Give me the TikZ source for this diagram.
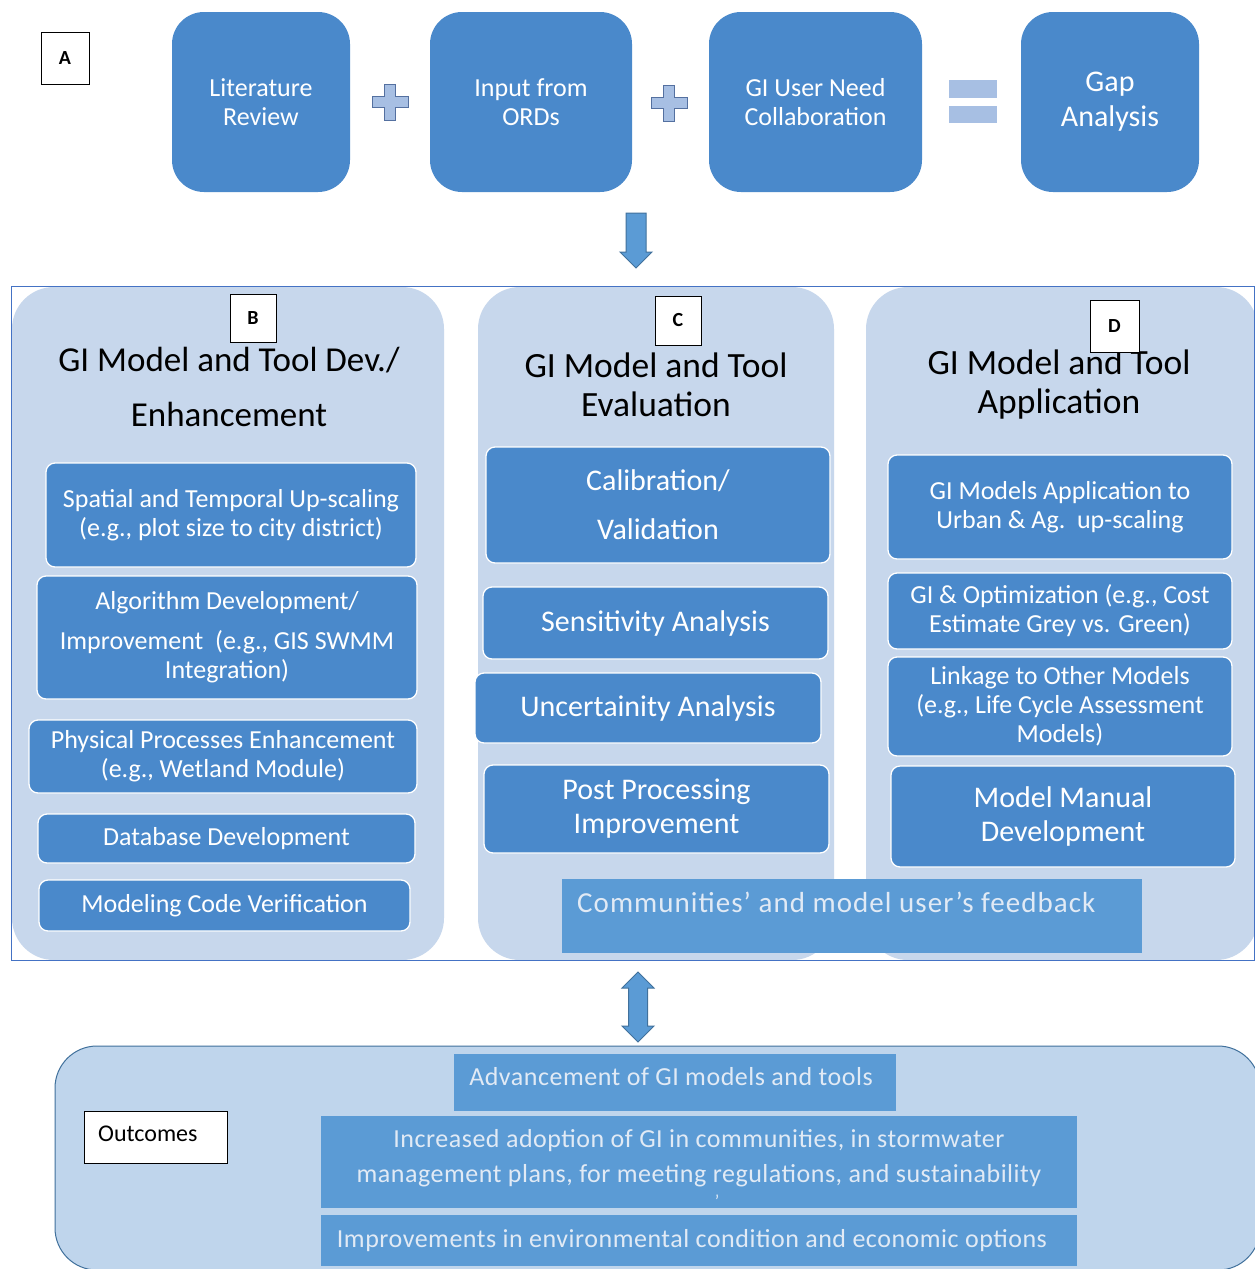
\documentclass[tikz,border=0pt]{standalone}
\usepackage{fontspec}
\setmainfont{Carlito}
\newfontfamily\spacedfont[LetterSpace=2]{Carlito}
\newfontfamily\widefont[LetterSpace=3.6]{Carlito}
\definecolor{boxblue}{RGB}{74,137,203}
\definecolor{panelfill}{RGB}{199,215,236}
\definecolor{outfill}{RGB}{191,213,236}
\definecolor{lightbox}{RGB}{91,155,213}
\definecolor{lighttext}{RGB}{225,234,245}
\definecolor{plusfill}{RGB}{167,191,227}
\definecolor{plusline}{RGB}{84,112,160}
\definecolor{arrowline}{RGB}{65,113,156}
\definecolor{framecol}{RGB}{68,114,196}
\newcommand{\placebox}[7]{%
  \pgfmathsetmacro{\pbW}{#5-#3}%
  \pgfmathsetmacro{\pbH}{#6-#4}%
  \pgfmathsetmacro{\pbX}{(#3+#5)/2}%
  \pgfmathsetmacro{\pbY}{(#4+#6)/2}%
  \node[#1, minimum width=\pbW pt, minimum height=\pbH pt] (#2) at (\pbX,\pbY) {#7};}
\tikzset{
  panelbg/.style={fill=panelfill, draw=none, rounded corners=42pt},
  item/.style={fill=boxblue, draw=white, line width=1.3pt, rounded corners=9pt, text=white, align=center, inner sep=0pt, font=\fontsize{26}{29}\selectfont},
  bigitem/.style={item, font=\fontsize{30}{34}\selectfont},
  topbox/.style={fill=boxblue, draw=none, rounded corners=32pt, text=white, align=center, inner sep=0pt, font=\fontsize{26}{29}\selectfont},
  lab/.style={fill=white, draw=black, line width=1pt, inner sep=0pt, font=\bfseries\fontsize{20}{22}\selectfont},
  titletext/.style={font=\fontsize{35.5}{39}\selectfont, align=center, text=black, inner sep=0pt},
  outbox/.style={fill=lightbox, draw=none, inner sep=0pt},
  outtext/.style={text=lighttext, font=\spacedfont\fontsize{26}{35}\selectfont, align=center, inner sep=0pt},
  plusst/.style={fill=plusfill, draw=plusline, line width=0.8pt},
  blockarrow/.style={fill=lightbox, draw=arrowline, line width=1pt},
}
\begin{document}
\begin{tikzpicture}[x=1pt,y=-1pt]
\useasboundingbox (0,0) rectangle (1254,1269);
\fill[white] (0,0) rectangle (1254,1269);

% ---- top row
\placebox{lab}{la}{41}{32}{89}{84}{A}
\placebox{topbox}{t1}{172}{12}{350}{192}{Literature\\Review}
\placebox{topbox}{t2}{430}{12}{632}{192}{Input from\\ORDs}
\placebox{topbox}{t3}{709}{12}{922}{192}{GI User Need\\Collaboration}
\placebox{topbox, font=\fontsize{30}{35}\selectfont}{t4}{1021}{12}{1199}{192}{Gap\\Analysis}

\coordinate (p1) at (390,102);
\coordinate (p2) at (669,103);
\foreach \pc in {p1,p2}{
  \draw[plusst, shift={(\pc)}] (-5.5,-18) -- (5.5,-18) -- (5.5,-5.5) -- (18,-5.5) -- (18,5.5) -- (5.5,5.5) -- (5.5,18) -- (-5.5,18) -- (-5.5,5.5) -- (-18,5.5) -- (-18,-5.5) -- (-5.5,-5.5) -- cycle;
}
\fill[plusfill] (949,80) rectangle (997,98);
\fill[plusfill] (949,106) rectangle (997,123);

% ---- down arrow
\coordinate (dtop) at (636,213);
\draw[blockarrow, shift={(dtop)}] (-10,0) -- (10,0) -- (10,39) -- (16,39) -- (0,55) -- (-16,39) -- (-10,39) -- cycle;

% ---- panels
\fill[panelbg] (12,287) rectangle (444,960);
\fill[panelbg] (478,287) rectangle (834,960);
\fill[panelbg] (866,287) rectangle (1258,960);
\draw[framecol, line width=1pt] (11,286) rectangle (1254,960);

% ---- titles
\node[titletext, font=\fontsize{35}{55}\selectfont] (bt) at (229,387) {GI Model and Tool Dev./\\Enhancement};
\node[titletext] (ct) at (656,385) {GI Model and Tool\\Evaluation};
\node[titletext] (dt) at (1059,385) {GI Model and Tool\\Application};
\placebox{lab}{lb}{230}{294}{276}{342}{B}
\placebox{lab}{lc}{655}{296}{701}{345}{C}
\placebox{lab}{ld}{1090}{300}{1139}{352}{D}

% ---- B items
\placebox{item}{b1}{46}{463}{416}{567}{Spatial and Temporal Up-scaling\\(e.g., plot size to city district)}
\placebox{item}{b2}{37}{576}{417}{699}{Algorithm Development/\\[11pt]Improvement\ \ (e.g., GIS SWMM\\Integration)}
\placebox{item}{b3}{29}{720}{417}{793}{Physical Processes Enhancement\\(e.g., Wetland Module)}
\placebox{item}{b4}{38}{814}{415}{863}{Database Development}
\placebox{item}{b5}{39}{880}{410}{931}{Modeling Code Verification}

% ---- C items
\placebox{bigitem, font=\fontsize{30}{49}\selectfont}{c1}{486}{447}{830}{563}{Calibration/\\Validation}
\placebox{bigitem}{c2}{483}{587}{828}{659}{Sensitivity Analysis}
\placebox{bigitem}{c3}{475}{673}{821}{743}{Uncertainity Analysis}
\placebox{bigitem}{c4}{484}{765}{829}{853}{Post Processing\\Improvement}

% ---- D items
\placebox{item}{d1}{888}{455}{1232}{559}{GI Models Application to\\Urban \& Ag.\ \ up-scaling}
\placebox{item}{d2}{888}{573}{1232}{649}{GI \& Optimization (e.g., Cost\\Estimate Grey vs. Green)}
\placebox{item}{d3}{888}{657}{1232}{756}{Linkage to Other Models\\(e.g., Life Cycle Assessment\\Models)}
\placebox{bigitem}{d4}{891}{766}{1235}{867}{Model Manual\\Development}

% ---- feedback
\placebox{outbox}{fb}{562}{879}{1142}{953}{}
\node[text=lighttext, font=\widefont\fontsize{29}{33}\selectfont, anchor=base west, inner sep=0pt] (fbtext) at (577,912) {Communities’ and model user’s feedback};

% ---- double arrow
\coordinate (dmid) at (638,1007);
\draw[blockarrow, shift={(dmid)}] (0,-35) -- (16,-19) -- (9.5,-19) -- (9.5,19) -- (16,19) -- (0,35) -- (-16,19) -- (-9.5,19) -- (-9.5,-19) -- (-16,-19) -- cycle;

% ---- outcomes
\draw[fill=outfill, draw=arrowline, line width=1pt, rounded corners=42pt] (55,1046) rectangle (1260,1270);
\placebox{lab}{outlab}{84}{1111}{227}{1163}{}
\node[anchor=west, inner sep=0pt, font=\fontsize{24}{26}\selectfont] (outlabtext) at (98,1134) {Outcomes};

\placebox{outbox}{o1}{454}{1054}{896}{1111}{}
\node[outtext] (o1text) at (671,1077) {Advancement of GI models and tools};
\placebox{outbox}{o2}{321}{1116}{1077}{1208}{}
\node[outtext] (o2text) at (699,1158) {Increased adoption of GI in communities, in stormwater\\management plans, for meeting regulations, and sustainability};
\node[outtext, font=\fontsize{18}{20}\selectfont] (o2mark) at (717,1201) {’};
\placebox{outbox}{o3}{321}{1215}{1077}{1266}{}
\node[outtext] (o3text) at (692,1241) {Improvements in environmental condition and economic options};
\end{tikzpicture}
\end{document}
